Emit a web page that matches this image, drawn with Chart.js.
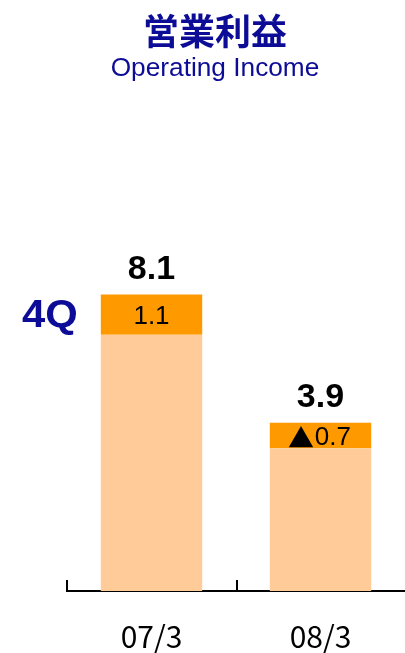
<!DOCTYPE html>
<html lang="ja">
<head>
<meta charset="UTF-8">
<title>営業利益</title>
<script src="https://cdn.jsdelivr.net/npm/chart.js"></script>
<style>
  html, body { margin: 0; padding: 0; background: #fff; overflow: hidden; }
  .wrap { position: relative; width: 405px; height: 653px; overflow: hidden; }
  .title, .subtitle {
    position: absolute; left: 0; width: 430px; text-align: center; color: #0c0c96; margin: 0;
  }
  .title {
    top: 11px; font: bold 36px/36px "Noto Sans CJK JP", sans-serif;
  }
  .subtitle {
    top: 55px; font: 25px/25px "Liberation Sans", Arial, sans-serif;
    transform: scaleX(1.05);
  }
  canvas { position: absolute; left: 0; top: 0; }
</style>
</head>
<body>
<div class="wrap">
  <canvas id="chart" width="405" height="683"></canvas>
  <h1 class="title">営業利益</h1>
  <p class="subtitle">Operating Income</p>
</div>
<script>
// data
const periods = ['07/3', '08/3'];
const baseValues = [7.0, 3.9];      // 1Q-3Q part (light)
const q4Values = [1.1, 0.7];        // 4Q segment height
const q4Labels = ['1.1', '▲0.7'];
const totalLabels = ['8.1', '3.9'];

const navy = '#0c0c96';
const numFont = '"Liberation Sans", Arial, sans-serif';
const cjkFont = '"Noto Sans CJK JP", sans-serif';

// segment label; a leading ▲ (minus sign) comes from the CJK font
function drawSegLabel(ctx, text, cx, cy) {
  let mark = '', num = text;
  if (text.startsWith('▲')) { mark = '▲'; num = text.slice(1); }
  ctx.font = '26px ' + cjkFont;
  const mw = mark ? ctx.measureText(mark).width * 0.95 : 0;
  ctx.font = '26px ' + numFont;
  const nw = ctx.measureText(num).width;
  const left = cx - (mw + nw) / 2;
  ctx.textAlign = 'left';
  if (mark) {
    ctx.font = '26px ' + cjkFont;
    ctx.fillText(mark, left - 2, cy + 3);
  }
  ctx.font = '26px ' + numFont;
  ctx.fillText(num, left + mw, cy + 2);
  ctx.textAlign = 'center';
}

// value labels, "4Q" tag and upward tick marks on the axis
const labelPlugin = {
  id: 'labels',
  afterDatasetsDraw(chart) {
    const ctx = chart.ctx;
    const top = chart.getDatasetMeta(1).data;
    ctx.save();
    ctx.textAlign = 'center';
    ctx.textBaseline = 'middle';
    top.forEach((bar, i) => {
      const mid = (bar.y + bar.base) / 2;
      ctx.fillStyle = '#000';
      drawSegLabel(ctx, q4Labels[i], bar.x, mid);
      ctx.font = 'bold 34px ' + numFont;
      ctx.fillText(totalLabels[i], bar.x, bar.y - 25);
    });
    // 4Q tag beside first bar
    const first = top[0];
    ctx.fillStyle = navy;
    ctx.font = 'bold 38px ' + numFont;
    ctx.save();
    ctx.translate(50, (first.y + first.base) / 2 + 2);
    ctx.scale(1.1, 1);
    ctx.fillText('4Q', 0, 0);
    ctx.restore();

    // tick marks at category boundaries, pointing up
    const x = chart.scales.x;
    const area = chart.chartArea;
    const step = (x.right - x.left) / periods.length;
    ctx.strokeStyle = '#000';
    ctx.lineWidth = 2;
    for (let i = 0; i < periods.length; i++) {
      const px = Math.round(x.left + step * i) + (i ? 1 : 0);
      ctx.beginPath();
      ctx.moveTo(px, area.bottom);
      ctx.lineTo(px, area.bottom - 11);
      ctx.stroke();
    }
    ctx.restore();
  }
};

new Chart(document.getElementById('chart'), {
  type: 'bar',
  data: {
    labels: periods,
    datasets: [
      { label: '1Q-3Q', data: baseValues, backgroundColor: '#ffcc99' },
      { label: '4Q', data: q4Values, backgroundColor: '#ff9900' }
    ]
  },
  options: {
    responsive: false,
    animation: false,
    layout: { padding: { left: 67, right: 0, top: 225, bottom: 0 } },
    plugins: {
      legend: { display: false },
      tooltip: { enabled: false }
    },
    scales: {
      x: {
        stacked: true,
        grid: { display: false, drawTicks: false },
        border: { display: true, color: '#000', width: 2 },
        ticks: {
          color: '#000',
          padding: 28,
          font: { family: cjkFont, size: 30, lineHeight: 1.2 }
        }
      },
      y: {
        stacked: true,
        display: false,
        min: 0,
        max: 10
      }
    },
    datasets: {
      bar: { barPercentage: 0.6, categoryPercentage: 1.0 }
    }
  },
  plugins: [labelPlugin]
});
</script>
</body>
</html>
